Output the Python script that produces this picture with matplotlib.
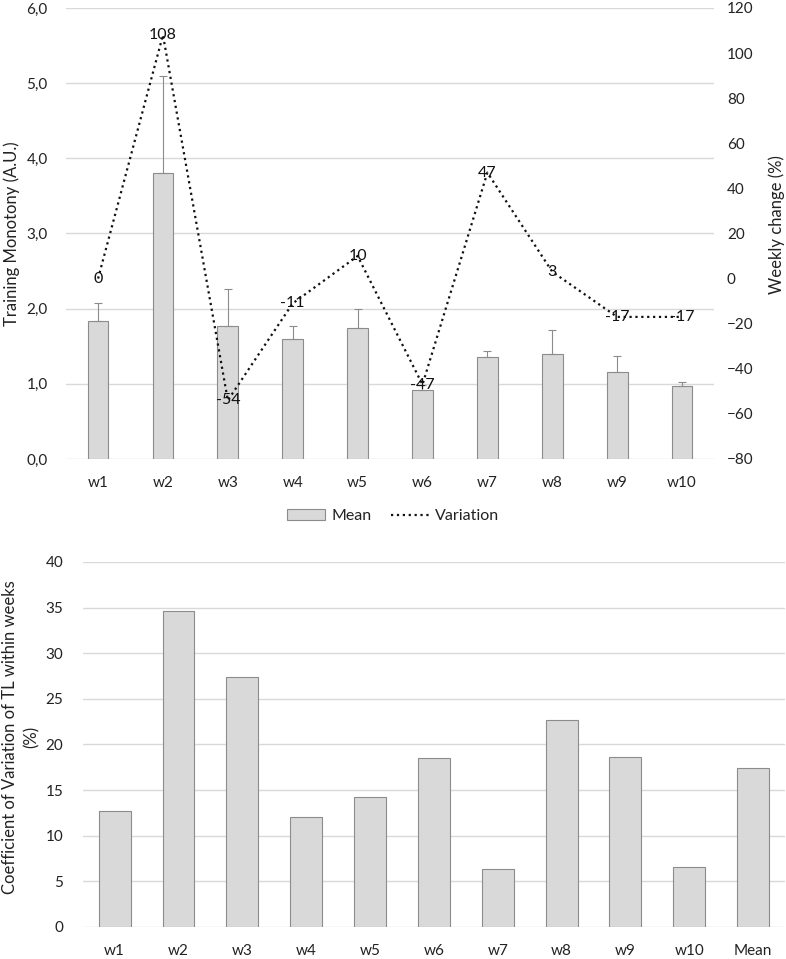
import numpy as np
import matplotlib
matplotlib.use('Agg')
import matplotlib.pyplot as plt
from matplotlib.lines import Line2D
from matplotlib.patches import Patch

# datos
semanas = ['w1', 'w2', 'w3', 'w4', 'w5', 'w6', 'w7', 'w8', 'w9', 'w10']
monotonia = [1.84, 3.80, 1.77, 1.59, 1.74, 0.92, 1.36, 1.40, 1.16, 0.97]
monotonia_sd = [0.23, 1.30, 0.49, 0.18, 0.25, 0.06, 0.07, 0.31, 0.21, 0.06]
variacion = [0, 108, -54, -11, 10, -47, 47, 3, -17, -17]

semanas_cv = ['w1', 'w2', 'w3', 'w4', 'w5', 'w6', 'w7', 'w8', 'w9', 'w10', 'Mean']
cv = [12.75, 34.6, 27.4, 12.1, 14.2, 18.55, 6.4, 22.7, 18.65, 6.55, 17.4]

plt.rcParams['font.family'] = ['Lato', 'DejaVu Sans']
plt.rcParams['font.size'] = 11.5

gris_barra = '#d9d9d9'
borde = '#8c8c8c'
gris_grid = '#d9d9d9'
texto = '#222222'

fig = plt.figure(figsize=(7.86, 9.59), dpi=100)

# ---- grafico de arriba (monotonia + variacion semanal)
ax1 = fig.add_axes([0.0835, 0.5214, 0.8255, 0.4703])
x = np.arange(len(semanas))
ax1.bar(x, monotonia, width=0.32, color=gris_barra, edgecolor=borde, linewidth=0.8, zorder=2)
ax1.errorbar(x, monotonia, yerr=[np.zeros(len(x)), monotonia_sd], fmt='none',
             ecolor=borde, elinewidth=0.8, capsize=3, capthick=0.8, zorder=3)
ax1.set_xlim(-0.5, len(semanas) - 0.5)
ax1.set_ylim(0, 6)
ax1.set_yticks(np.arange(0, 6.01, 1))
ax1.set_yticklabels([('%.1f' % v).replace('.', ',') for v in np.arange(0, 6.01, 1)])
ax1.set_xticks(x)
ax1.set_xticklabels(semanas)
ax1.yaxis.grid(True, color=gris_grid, linewidth=1, zorder=0)
ax1.set_axisbelow(True)
for s in ax1.spines.values():
    s.set_visible(False)
ax1.tick_params(length=0, pad=13, colors=texto, labelsize=11)
ax1.tick_params(axis='x', pad=12)
ax1.set_ylabel('Training Monotony (A.U.)', color=texto, fontsize=12, va='center')
ax1.yaxis.set_label_coords((12 - 65.6) / 648.8, 0.5)

ax2 = ax1.twinx()
ax2.plot(x, variacion, linestyle=':', color='#111111', linewidth=1.6, zorder=4)
for xi, v in zip(x, variacion):
    ax2.text(xi, v, str(v), ha='center', va='center', fontsize=11.5, color='#111111', zorder=5)
ax2.set_ylim(-80, 120)
ax2.set_yticks(np.arange(-80, 121, 20))
for s in ax2.spines.values():
    s.set_visible(False)
ax2.tick_params(length=0, pad=9, colors=texto, labelsize=11)
ax2.set_ylabel('Weekly change (%)', color=texto, fontsize=12, va='center')
ax2.yaxis.set_label_coords((777 - 65.6) / 648.8, 0.52)

handles = [Patch(facecolor=gris_barra, edgecolor=borde, linewidth=0.8),
           Line2D([0], [0], linestyle=':', color='#111111', linewidth=1.6)]
fig.legend(handles, ['Mean', 'Variation'], loc='center', bbox_to_anchor=(0.5, 1 - 516 / 959),
           ncol=2, frameon=False, handlelength=2.4, handletextpad=0.4, columnspacing=1.2,
           fontsize=11.5, labelcolor=texto)

# ---- grafico de abajo (CV semanal)
ax3 = fig.add_axes([0.1053, 0.0334, 0.8934, 0.3806])
x2 = np.arange(len(semanas_cv))
ax3.bar(x2, cv, width=0.5, color=gris_barra, edgecolor=borde, linewidth=0.8, zorder=2)
ax3.set_xlim(-0.5, len(semanas_cv) - 0.5)
ax3.set_ylim(0, 40)
ax3.set_yticks(np.arange(0, 41, 5))
ax3.set_xticks(x2)
ax3.set_xticklabels(semanas_cv)
ax3.yaxis.grid(True, color=gris_grid, linewidth=1, zorder=0)
ax3.set_axisbelow(True)
for s in ax3.spines.values():
    s.set_visible(False)
ax3.tick_params(length=0, pad=14, colors=texto, labelsize=11)
ax3.tick_params(axis='x', pad=12)
ax3.set_ylabel('Coefficient of Variation of TL within weeks\n(%)', linespacing=1.4,
               color=texto, fontsize=12, va='center')
ax3.yaxis.set_label_coords((21 - 82.8) / 702, 0.52)

fig.savefig('out.png', dpi=100)
